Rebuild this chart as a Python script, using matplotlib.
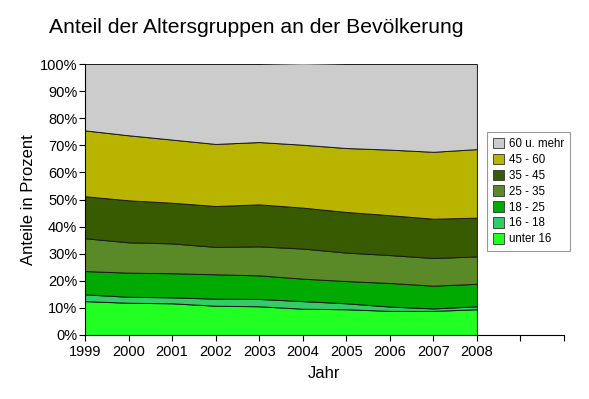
import matplotlib
matplotlib.use("Agg")
import matplotlib.pyplot as plt
from matplotlib.ticker import FuncFormatter

plt.rcParams['font.family'] = ['Liberation Sans', 'DejaVu Sans']

years = [1999, 2000, 2001, 2002, 2003, 2004, 2005, 2006, 2007, 2008]
labels = ["unter 16", "16 - 18", "18 - 25", "25 - 35", "35 - 45", "45 - 60", "60 u. mehr"]
unter16 = [12.5, 11.9, 11.7, 10.8, 10.6, 9.7, 9.5, 8.9, 8.9, 9.5]
a16_18 = [2.5, 2.2, 2.2, 2.6, 2.7, 2.8, 2.2, 1.6, 0.9, 1.1]
a18_25 = [8.6, 8.9, 8.9, 9.0, 8.7, 8.3, 8.2, 8.7, 8.4, 8.3]
a25_35 = [12.1, 11.2, 11.0, 10.1, 10.7, 11.1, 10.5, 10.3, 10.2, 10.1]
a35_45 = [15.5, 15.5, 15.0, 15.1, 15.5, 15.1, 15.0, 14.7, 14.5, 14.3]
a45_60 = [24.3, 24.0, 23.3, 22.9, 23.0, 23.2, 23.6, 24.2, 24.7, 25.3]
a60 = [24.5, 26.3, 27.9, 29.5, 28.8, 30.1, 31.0, 31.6, 32.4, 31.4]
colors = ["#22FF22", "#33CC66", "#00AA00", "#5A8A28", "#385A00", "#B8B400", "#CCCCCC"]

fig = plt.figure(figsize=(5.89, 3.99), dpi=100)
ax = fig.add_axes([85/589, 64/399, (564-85)/589, (335-64)/399])

series = [unter16, a16_18, a18_25, a25_35, a35_45, a45_60, a60]
polys = ax.stackplot(years, *series, colors=colors, labels=labels,
                     edgecolor="#1a1a1a", linewidth=0.7)

ax.set_xlim(1999, 2010)
ax.set_ylim(0, 100)
ax.set_xticks(list(range(1999, 2011)))
ax.set_xticklabels([str(y) for y in years] + ["", ""])
ax.set_yticks(range(0, 101, 10))
ax.yaxis.set_major_formatter(FuncFormatter(lambda v, p: f"{int(v)}%"))
ax.tick_params(axis='both', direction='out', length=4, width=0.8, labelsize=10.5)
ax.tick_params(axis='x', pad=3)
ax.tick_params(axis='y', pad=1.5)
for s in ['top', 'right']:
    ax.spines[s].set_visible(False)
ax.spines['left'].set_linewidth(0.8)
ax.spines['bottom'].set_linewidth(0.8)

ax.set_xlabel("Jahr", fontsize=12, labelpad=5)
ax.set_ylabel("Anteile in Prozent", fontsize=12, labelpad=3)

fig.text(256/589, 0.955, "Anteil der Altersgruppen an der Bevölkerung",
         ha='center', va='top', fontsize=15.2)

handles, labs = ax.get_legend_handles_labels()
leg = ax.legend(handles[::-1], labs[::-1], loc='upper left',
                bbox_to_anchor=(487/589, 1 - 132/399), bbox_transform=fig.transFigure,
                fontsize=8.3, frameon=True, fancybox=False, edgecolor="#808080",
                handlelength=1.0, handleheight=1.0, handletextpad=0.4,
                labelspacing=0.33, borderpad=0.5, borderaxespad=0)
leg.get_frame().set_linewidth(0.8)
for h in leg.legend_handles:
    h.set_edgecolor("#333333")
    h.set_linewidth(0.6)

fig.savefig("out.png", dpi=100)
